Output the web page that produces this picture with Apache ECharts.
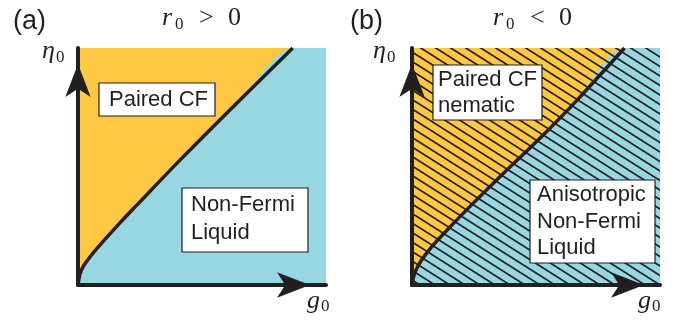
<!DOCTYPE html>
<html>
<head>
<meta charset="utf-8">
<script src="https://cdn.jsdelivr.net/npm/echarts@6/dist/echarts.min.js"></script>
<style>
  html, body { margin: 0; padding: 0; background: #fff; }
  #chart { width: 690px; height: 322px; }
</style>
</head>
<body>
<div id="chart"></div>
<script>
// Phase boundary eta0(g0), r0 > 0  (units: fraction of the plotted range)
const boundaryA = [[0, 0], [0.008, 0.046], [0.020, 0.076], [0.048, 0.118], [0.089, 0.169],
  [0.169, 0.262], [0.238, 0.338], [0.411, 0.527], [0.653, 0.781], [0.866, 1]];
// Phase boundary eta0(g0), r0 < 0
const boundaryB = [[0, 0], [0.008, 0.040], [0.024, 0.080], [0.052, 0.125], [0.095, 0.180],
  [0.169, 0.262], [0.238, 0.336], [0.371, 0.474], [0.524, 0.628], [0.661, 0.775], [0.857, 1]];
// Upper-right corner closes the region below the boundary
const corner = [1, 1];
const fullTop = [[0, 1], [1, 1]];

const panelTags = ['(a)', '(b)'];
const panelConditions = ['>', '<'];
const labelsA = [['Paired CF'], ['Non-Fermi', 'Liquid']];
const labelsB = [['Paired CF', 'nematic'], ['Anisotropic', 'Non-Fermi', 'Liquid']];

const YELLOW = '#FEC843';
const CYAN = '#96D7E2';
const INK = '#231f20';

// Diagonal hatching: lines falling to the right at ~32 degrees, 15 px apart horizontally
function hatchPattern() {
  const step = 15, w = 4 * step, h = 38;
  const c = document.createElement('canvas');
  c.width = w; c.height = h;
  const ctx = c.getContext('2d');
  ctx.strokeStyle = INK;
  ctx.lineWidth = 1.7;
  for (let x0 = -2 * w; x0 <= 2 * w; x0 += step) {
    ctx.beginPath();
    ctx.moveTo(x0 - w, -h);
    ctx.lineTo(x0 + 2 * w, 2 * h);
    ctx.stroke();
  }
  return c;
}

function axisCommon(gridIndex) {
  return {
    gridIndex, type: 'value', min: 0, max: 1, z: 10,
    axisLine: {
      show: true, onZero: false,
      symbol: ['none', 'arrow'], symbolSize: [19, 33], symbolOffset: [0, -16],
      lineStyle: { color: INK, width: 4 }
    },
    axisTick: { show: false }, axisLabel: { show: false }, splitLine: { show: false }
  };
}

function areaSeries(idx, data, color, z) {
  return {
    type: 'line', xAxisIndex: idx, yAxisIndex: idx, data, symbol: 'none', z,
    smooth: 0.3,
    lineStyle: { width: 0 }, areaStyle: { color, opacity: 1 }, silent: true, animation: false
  };
}

function curveSeries(idx, data) {
  return {
    type: 'line', xAxisIndex: idx, yAxisIndex: idx, data, symbol: 'none', z: 6,
    smooth: 0.3,
    lineStyle: { color: INK, width: 3.5 }, silent: true, animation: false
  };
}

const sans = "22px 'Liberation Sans', Arial, sans-serif";
const mathIt = "italic 26px 'Liberation Serif', serif";
const mathUp = "26px 'Liberation Serif', serif";
const subFont = "17px 'Liberation Serif', serif";

function text(x, y, t, font, align) {
  return { type: 'text', x, y, z: 100,
    style: { text: t, font, fill: INK, align: align || 'left', verticalAlign: 'middle' } };
}

function labelBox(x, y, w, h, lines, tx, firstY, step) {
  const els = [{ type: 'rect', z: 90, shape: { x, y, width: w, height: h },
    style: { fill: '#fff', stroke: INK, lineWidth: 1.2 } }];
  lines.forEach((l, i) => els.push(text(tx, firstY + i * step, l, sans)));
  return els;
}

function panelDecor(dx, tag, tagX, cond) {
  return [
    text(tagX, 22, tag, "27px 'Liberation Sans', Arial, sans-serif"),
    text(162 + dx, 18, 'r', mathIt),
    text(175 + dx, 25, '0', subFont),
    text(199 + dx, 18, cond, mathUp),
    text(228 + dx, 18, '0', mathUp),
    text(42 + dx, 51, 'η', mathIt),
    text(56 + dx, 58, '0', subFont),
    text(307 + dx, 301, 'g', mathIt),
    text(321 + dx, 307, '0', subFont)
  ];
}

const chart = echarts.init(document.getElementById('chart'), null, { renderer: 'canvas' });
const hatch = { image: hatchPattern(), repeat: 'repeat' };

chart.setOption({
  animation: false,
  grid: [
    { left: 78, top: 48, width: 248, height: 237 },
    { left: 412, top: 48, width: 248, height: 237 }
  ],
  xAxis: [Object.assign(axisCommon(0), { position: 'bottom' }), Object.assign(axisCommon(1), { position: 'bottom' })],
  yAxis: [Object.assign(axisCommon(0), { position: 'left' }), Object.assign(axisCommon(1), { position: 'left' })],
  series: [
    areaSeries(0, fullTop, YELLOW, 1),
    areaSeries(0, boundaryA.concat([corner]), CYAN, 2),
    curveSeries(0, boundaryA),
    areaSeries(1, fullTop, YELLOW, 1),
    areaSeries(1, boundaryB.concat([corner]), CYAN, 2),
    areaSeries(1, fullTop, hatch, 3),
    curveSeries(1, boundaryB)
  ],
  graphic: [
    ...panelDecor(0, panelTags[0], 13, panelConditions[0]),
    ...panelDecor(331, panelTags[1], 350, panelConditions[1]),
    ...labelBox(99, 83, 116, 33, labelsA[0], 109, 100, 27),
    ...labelBox(182, 188, 126, 64, labelsA[1], 191, 205, 28),
    ...labelBox(433, 65, 109, 55, labelsB[0], 438, 80, 26),
    ...labelBox(530, 180, 125, 83, labelsB[1], 537, 195, 26.5)
  ]
});
</script>
</body>
</html>
